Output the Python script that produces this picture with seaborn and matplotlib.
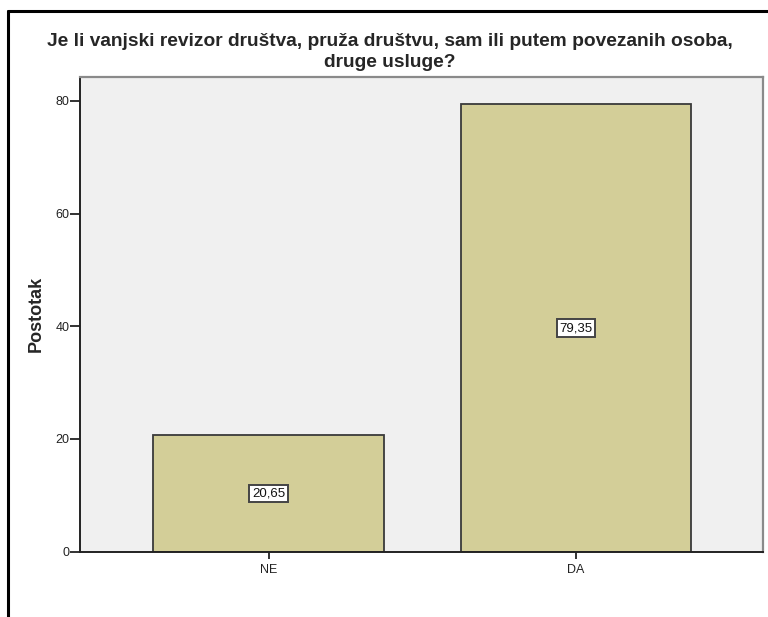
import matplotlib
matplotlib.use('Agg')
import matplotlib.pyplot as plt
import seaborn as sns
import pandas as pd
from matplotlib.lines import Line2D

# data
categories = ['NE', 'DA']
percentages = [20.65, 79.35]
value_labels = ['20,65', '79,35']
y_ticks = [0, 20, 40, 60, 80]

df = pd.DataFrame({'Odgovor': categories, 'Postotak': percentages})

sns.set_theme(style='white')
plt.rcParams['font.family'] = ['Liberation Sans', 'DejaVu Sans']

fig = plt.figure(figsize=(7.68, 6.17), dpi=100)
ax = fig.add_axes([0.1042, 0.1058, 0.8893, 0.7692])

sns.barplot(data=df, x='Odgovor', y='Postotak', color='#D3CE98',
            width=0.75, edgecolor='#3a3a3a', linewidth=1.3,
            saturation=1, ax=ax)

ax.set_facecolor('#F0F0F0')
ax.set_xlim(-0.613, 1.608)
ax.set_ylim(0, 84.2)
ax.set_yticks(y_ticks)
ax.set_yticklabels([str(t) for t in y_ticks], fontsize=9, color='#222222')
ax.set_xticks(range(len(categories)))
ax.set_xticklabels(categories, fontsize=9, color='#222222')
ax.tick_params(axis='y', length=7, width=1.3, color='#222222',
               direction='out', pad=0.5, left=True)
ax.tick_params(axis='x', length=5, width=1.3, color='#222222',
               direction='out', pad=4, bottom=True)
ax.set_xlabel('')
ax.set_ylabel('Postotak', fontsize=13, fontweight='bold', labelpad=8)

for side in ['left', 'bottom']:
    ax.spines[side].set_color('#222222')
    ax.spines[side].set_linewidth(1.4)
for side in ['top', 'right']:
    ax.spines[side].set_color('#8a8a8a')
    ax.spines[side].set_linewidth(1.6)

# value labels in the middle of each bar
for i, (v, lab) in enumerate(zip(percentages, value_labels)):
    ax.text(i, v / 2, lab, ha='center', va='center', fontsize=9.5,
            color='#111111',
            bbox=dict(boxstyle='square,pad=0.2', facecolor='white',
                      edgecolor='#444444', linewidth=1.4))

fig.text(0.508, 0.916,
         'Je li vanjski revizor društva, pruža društvu, sam ili putem povezanih osoba,\ndruge usluge?',
         ha='center', va='center', fontsize=13.8, fontweight='bold',
         linespacing=1.3)

# outer frame of the output window (only left and top visible)
fig.lines.append(Line2D([0.0098, 0.0098], [-0.01, 0.982], transform=fig.transFigure,
                        color='black', linewidth=2.2))
fig.lines.append(Line2D([0.0098, 1.01], [0.982, 0.982], transform=fig.transFigure,
                        color='black', linewidth=2.2))

fig.savefig('out.png', dpi=100)
